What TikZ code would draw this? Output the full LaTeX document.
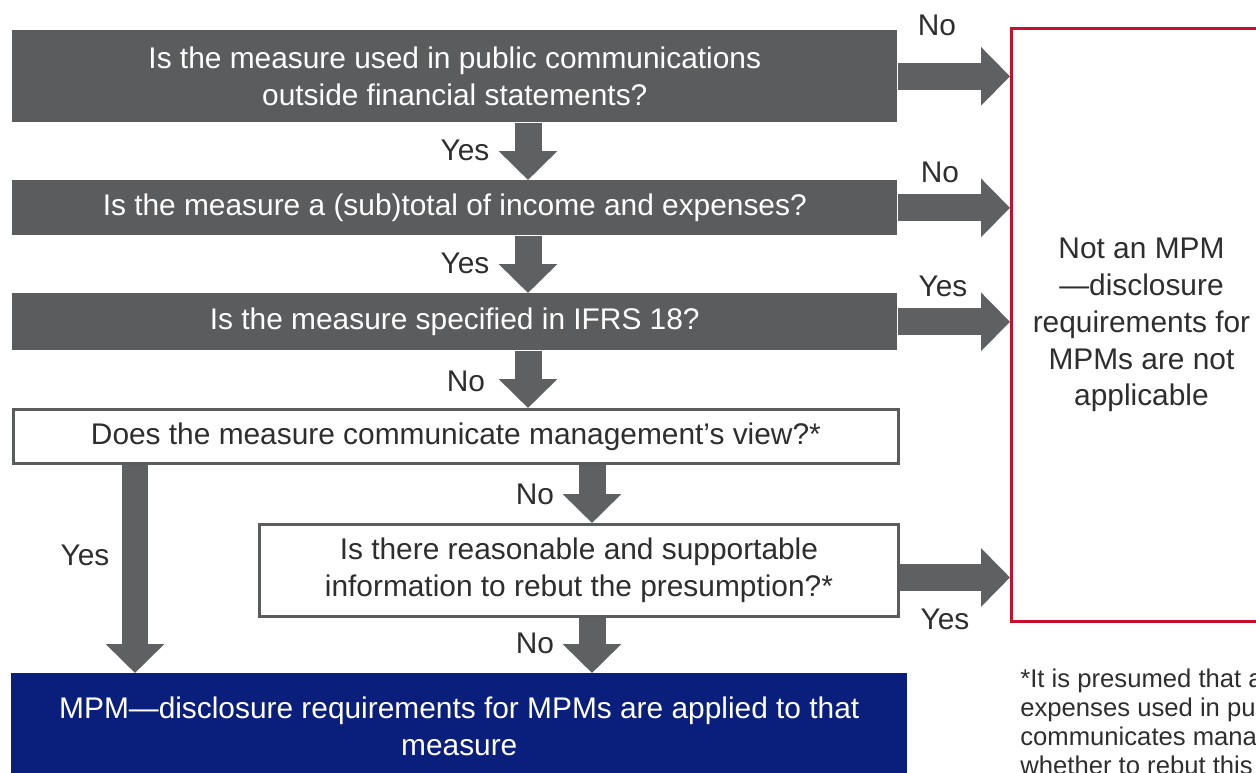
\documentclass[tikz,border=0pt]{standalone}
\usepackage{fontspec}
\setmainfont{Liberation Sans}
\usetikzlibrary{arrows.meta}

\definecolor{boxgray}{HTML}{5B5C5E}
\definecolor{arrowgray}{HTML}{5F6062}
\definecolor{mpmnavy}{HTML}{0A1F7C}
\definecolor{notred}{HTML}{C8102E}
\definecolor{txtdark}{HTML}{2E2E2E}

\begin{document}
\begin{tikzpicture}[x=0.02cm,y=-0.02cm,
  bigfont/.style={font=\fontsize{17}{21}\selectfont},
  darkbox/.style={bigfont,fill=boxgray,text=white,inner sep=0pt,align=center,anchor=north west},
  whitebox/.style={bigfont,draw=boxgray,line width=1.7pt,fill=white,text=txtdark,inner sep=0pt,align=center,anchor=north west},
  bigarrow/.style={draw=arrowgray,line width=0.54cm,-{Triangle[width=1.14cm,length=0.58cm]}},
  lbl/.style={bigfont,text=txtdark,inner sep=0pt}]

  \useasboundingbox (0,0) rectangle (1256,773);
  \clip (0,0) rectangle (1256,773);

% question boxes
  \node[darkbox,minimum width=17.7cm,minimum height=1.84cm] (q1) at (12,30)
    {Is the measure used in public communications\\outside financial statements?};
  \node[darkbox,minimum width=17.7cm,minimum height=1.1cm] (q2) at (12,180)
    {Is the measure a (sub)total of income and expenses?};
  \node[darkbox,minimum width=17.7cm,minimum height=1.14cm] (q3) at (12,293)
    {Is the measure specified in IFRS 18?};
  \node[whitebox,minimum width=17.7cm,minimum height=1.08cm] (q4) at (12,408)
    {Does the measure communicate management’s view?*};
  \node[whitebox,minimum width=12.78cm,minimum height=1.84cm] (q5) at (258,523)
    {Is there reasonable and supportable\\information to rebut the presumption?*};

% outcomes
  \node[darkbox,fill=mpmnavy,minimum width=17.92cm,minimum height=2.12cm] (isMPM) at (11,673)
    {MPM—disclosure requirements for MPMs are applied to that\\measure};
  \node[whitebox,draw=notred,minimum width=5.2cm,minimum height=11.86cm] (notMPM) at (1010,27)
    {Not an MPM\\—disclosure\\requirements for\\MPMs are not\\applicable};

% footnote (runs off the page)
  \node[text=txtdark,inner sep=0pt,align=left,anchor=north west,
        font=\fontsize{14.6}{16.4}\selectfont] (note) at (1020,669)
    {*It is presumed that a\\expenses used in pu\\communicates mana\\whether to rebut this};

% arrow columns
  \coordinate (colA) at (528,0);
  \coordinate (colB) at (592,0);
  \coordinate (colC) at (135,0);
  \coordinate (q5out) at ([yshift=-0.14cm]q5.east);

% down arrows
  \draw[bigarrow] (q1.south -| colA) -- (q2.north -| colA);
  \draw[bigarrow] (q2.south -| colA) -- (q3.north -| colA);
  \draw[bigarrow] (q3.south -| colA) -- (q4.north -| colA);
  \draw[bigarrow] (q4.south -| colB) -- (q5.north -| colB);
  \draw[bigarrow] (q5.south -| colB) -- (isMPM.north -| colB);
  \draw[bigarrow] (q4.south -| colC) -- (isMPM.north -| colC);

% right arrows
  \foreach \q in {q1,q2,q3} {
      \draw[bigarrow] (\q.east) -- (notMPM.west |- \q.east);
  }
  \draw[bigarrow] (q5out) -- (notMPM.west |- q5out);

% labels
  \node[lbl] (yes1) at (465,150) {Yes};
  \node[lbl] (yes2) at (465,263) {Yes};
  \node[lbl] (no3)  at (466,381) {No};
  \node[lbl] (no4)  at (535,494) {No};
  \node[lbl] (no5)  at (535,643) {No};
  \node[lbl] (yes4) at (85,555)  {Yes};
  \node[lbl] (no1r) at (937,25)  {No};
  \node[lbl] (no2r) at (940,172) {No};
  \node[lbl] (yes3r) at (943,286) {Yes};
  \node[lbl] (yes5r) at (945,619) {Yes};

\end{tikzpicture}
\end{document}
